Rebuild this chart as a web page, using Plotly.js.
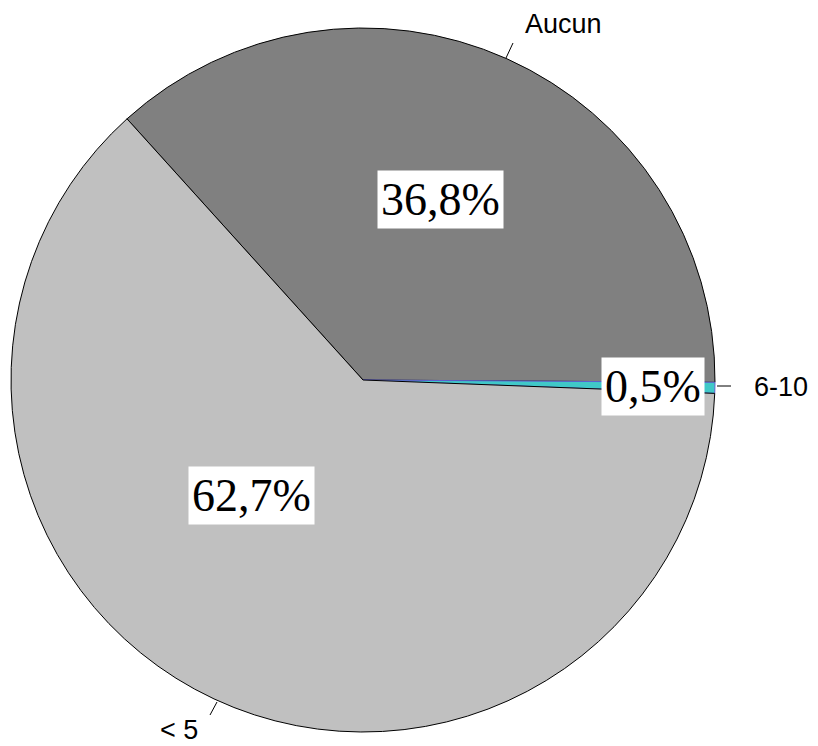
<!DOCTYPE html>
<html>
<head>
<meta charset="utf-8">
<script src="https://cdn.plot.ly/plotly-3.0.1.min.js"></script>
<style>html,body{margin:0;padding:0;background:#fff;}#chart{width:818px;height:746px;}</style>
</head>
<body>
<div id="chart"></div>
<script>
const categories = ['Aucun', '6-10', '< 5'];
const values = [36.8, 0.5, 62.7];
const sliceColors = ['#808080', '#40C8C8', '#C0C0C0'];
const lineColors = ['#000000', '#6060D0', '#000000'];

// label positions (pixels) for percentage boxes and category labels
const pctPos = [[440, 200], [653, 386], [251, 495]];
const catPos = [[563, 24], [781, 387], [179, 730]];
const leaders = [[506, 58, 513, 43], [717, 386, 731, 386], [217, 702, 210, 715]];

const W = 818, H = 746;
const cx = 363, cy = 380, R = 352;
const px = x => x / W, py = y => 1 - y / H;

const fmt = v => v.toFixed(1).replace('.', ',') + '%';

const annotations = [];
values.forEach((v, i) => {
  annotations.push({
    xref: 'paper', yref: 'paper', x: px(pctPos[i][0]), y: py(pctPos[i][1]),
    xanchor: 'center', yanchor: 'middle', showarrow: false,
    text: fmt(v), bgcolor: '#FFFFFF', borderpad: 3,
    font: {family: '"Liberation Serif", "Times New Roman", serif', size: 46, color: '#000'}
  });
  annotations.push({
    xref: 'paper', yref: 'paper', x: px(catPos[i][0]), y: py(catPos[i][1]),
    xanchor: 'center', yanchor: 'middle', showarrow: false,
    text: categories[i],
    font: {family: '"Liberation Sans", Arial, sans-serif', size: 27, color: '#000'}
  });
});

const shapes = leaders.map(l => ({
  type: 'line', xref: 'paper', yref: 'paper',
  x0: px(l[0]), y0: py(l[1]), x1: px(l[2]), y1: py(l[3]),
  line: {color: '#000', width: 1}
}));

const trace = {
  type: 'pie',
  labels: categories,
  values: values,
  sort: false,
  direction: 'clockwise',
  rotation: -42.1,
  textinfo: 'none',
  hoverinfo: 'label+percent',
  marker: {colors: sliceColors, line: {color: lineColors, width: 1}},
  domain: {x: [px(cx - R), px(cx + R)], y: [py(cy + R), py(cy - R)]},
  showlegend: false
};

Plotly.newPlot('chart', [trace], {
  width: W, height: H,
  margin: {l: 0, r: 0, t: 0, b: 0},
  paper_bgcolor: '#FFFFFF',
  showlegend: false,
  annotations: annotations,
  shapes: shapes
}, {displayModeBar: false, staticPlot: true});
</script>
</body>
</html>
